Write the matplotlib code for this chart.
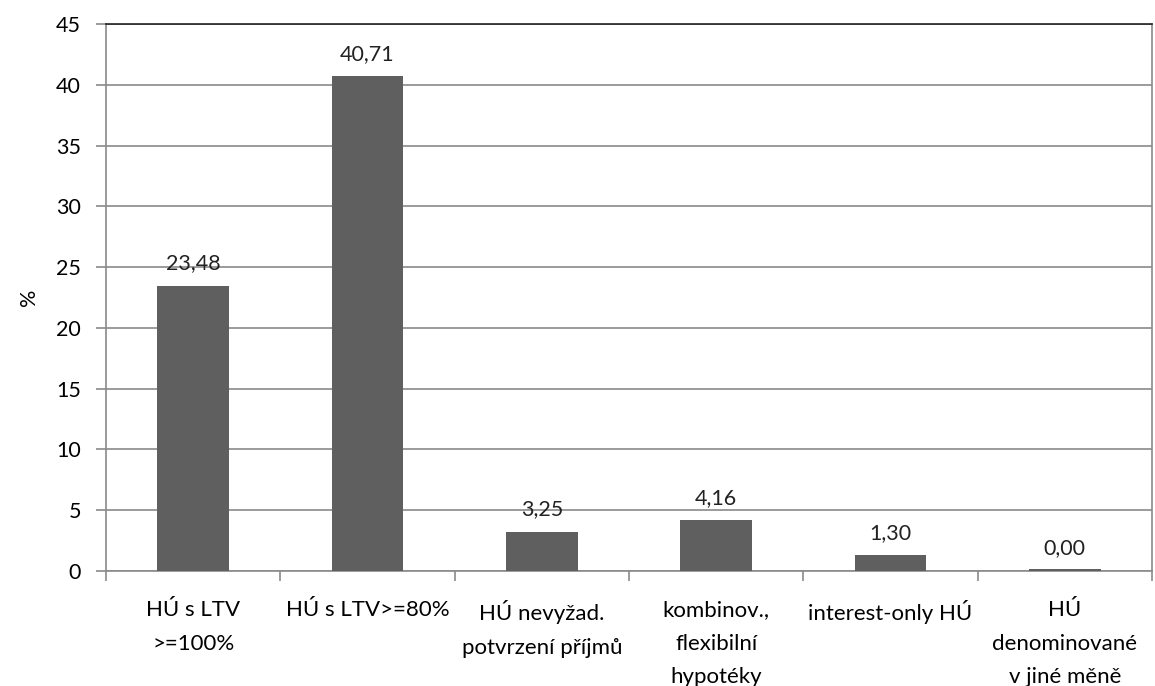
import matplotlib
matplotlib.use("Agg")
import matplotlib.pyplot as plt
import numpy as np

categories = [
    "HÚ s LTV\n>=100%",
    "HÚ s LTV>=80%",
    "HÚ nevyžad.\npotvrzení příjmů",
    "kombinov.,\nflexibilní\nhypotéky",
    "interest-only HÚ",
    "HÚ\ndenominované\nv jiné měně",
]
values = [23.48, 40.71, 3.25, 4.16, 1.30, 0.00]

plt.rcParams["font.family"] = ["Lato", "DejaVu Sans"]
plt.rcParams["font.size"] = 15.5

fig = plt.figure(figsize=(11.55, 6.86), dpi=100)
ax = fig.add_axes([0.0918, 0.1676, 0.9056, 0.7974])

x = np.arange(len(categories))
bars = ax.bar(x, [max(v, 0.15) for v in values], width=0.41, color="#5f5f5f", zorder=3)

for xi, v in zip(x, values):
    ax.annotate(f"{v:.2f}".replace(".", ","), (xi, v), xytext=(0, 9),
                textcoords="offset points", ha="center", va="bottom",
                fontsize=15.5, color="#222222", zorder=4)

ax.set_xlim(-0.5, len(categories) - 0.5)
ax.set_ylim(0, 45)
ax.set_yticks(np.arange(0, 46, 5))
ax.yaxis.grid(True, color="#8a8a8a", linewidth=1.2, zorder=0)
ax.set_ylabel("%", fontsize=15.5, labelpad=12)

ax.set_xticks(x)
ax.set_xticklabels(categories, linespacing=1.85, fontsize=16)
ax.tick_params(axis="x", length=0, pad=21)
ax.set_xticks(np.arange(-0.5, len(categories)), minor=True)
ax.tick_params(axis="x", which="minor", length=7, width=1.2, color="#8a8a8a")
ax.tick_params(axis="y", length=7, width=1.2, color="#8a8a8a", pad=11, labelsize=15.5)

for side in ["left", "bottom", "right"]:
    ax.spines[side].set_color("#8a8a8a")
    ax.spines[side].set_linewidth(1.2)
ax.spines["top"].set_color("#222222")
ax.spines["top"].set_linewidth(1.2)

fig.savefig("out.png", dpi=100)
